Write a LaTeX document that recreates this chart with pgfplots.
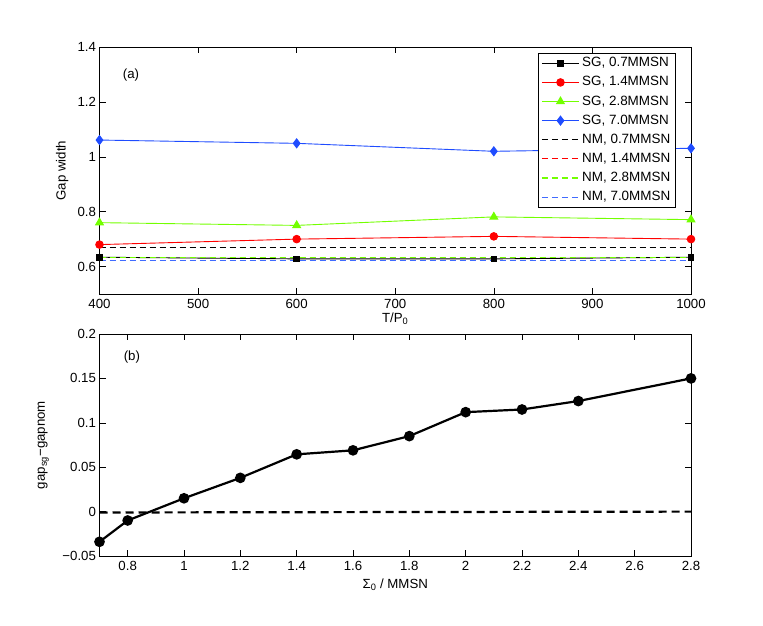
\documentclass[border=0pt]{standalone}
\usepackage{fontspec}
\setmainfont{Liberation Sans}
\usepackage{pgfplots}
\pgfplotsset{compat=1.18}
\definecolor{mred}{rgb}{1,0,0}
\definecolor{mgreen}{rgb}{0.45,1,0}
\definecolor{mblue}{rgb}{0.12,0.3,1}
\definecolor{mblued}{rgb}{0.25,0.42,1}
\begin{document}
\begin{tikzpicture}
\path[use as bounding box] (0,0) rectangle (763bp,-626bp);
\pgfplotsset{every axis/.append style={
  scale only axis, clip=false,
  font=\fontsize{13.3}{15.5}\selectfont,
  tick align=inside, major tick length=6bp,
  tick style={black, line width=0.5bp},
  axis line style={line width=0.6bp},
  xticklabel style={yshift=-1.5bp},
  /pgf/number format/assume math mode=true,
}}
\begin{axis}[
  at={(99.5bp,-294bp)}, anchor=south west,
  width=591.5bp, height=247bp,
  xmin=400, xmax=1000, ymin=0.5, ymax=1.4,
  xtick={400,500,600,700,800,900,1000},
  xticklabels={400,500,600,700,800,900,1000},
  ytick={0.6,0.8,1,1.2,1.4},
  yticklabels={0.6,0.8,1,1.2,1.4},
  ylabel={Gap width},
  ylabel style={at={(axis description cs:-0.063,0.5)}, anchor=center},
  xlabel={T/P\textsubscript{0}},
  xlabel style={at={(axis description cs:0.5,-0.1)}, anchor=center},
  legend style={at={(rel axis cs:0.9746,0.977)}, anchor=north east,
    draw=black, line width=0.5bp, font=\fontsize{13.5}{15.5}\selectfont,
    inner xsep=3bp, inner ysep=1.5bp, row sep=1.3bp,
    nodes={inner sep=2.4bp, anchor=west, text height=10bp, text depth=3bp}},
  legend cell align=left,
  legend image code/.code={\draw[mark repeat=2,mark phase=2,#1] plot coordinates {(0bp,0bp) (18.5bp,0bp) (37bp,0bp)};},
]
\addplot[black, line width=0.9bp, mark=square*, mark size=2.8bp, mark options={solid}] coordinates {(400,0.634) (600,0.628) (800,0.628) (1000,0.634)};
\addlegendentry{SG, 0.7MMSN}
\addplot[mred, line width=0.9bp, mark=*, mark size=3.8bp, mark options={solid}] coordinates {(400,0.68) (600,0.70) (800,0.71) (1000,0.70)};
\addlegendentry{SG, 1.4MMSN}
\addplot[mgreen, line width=0.9bp, mark=triangle*, mark size=4.5bp, mark options={solid}] coordinates {(400,0.76) (600,0.75) (800,0.781) (1000,0.771)};
\addlegendentry{SG, 2.8MMSN}
\addplot[mblue, line width=0.9bp, mark=diamond*, mark size=4.5bp, mark options={solid}] coordinates {(400,1.061) (600,1.049) (800,1.020) (1000,1.031)};
\addlegendentry{SG, 7.0MMSN}
\addplot[black, line width=0.9bp, dash pattern=on 6bp off 4bp] coordinates {(400,0.668) (1000,0.668)};
\addlegendentry{NM, 0.7MMSN}
\addplot[mred, line width=0.9bp, dash pattern=on 6bp off 4bp] coordinates {(400,0.633) (1000,0.633)};
\addlegendentry{NM, 1.4MMSN}
\addplot[mgreen, line width=1.5bp, dash pattern=on 6bp off 4bp] coordinates {(400,0.633) (1000,0.633)};
\addlegendentry{NM, 2.8MMSN}
\addplot[mblued, line width=0.9bp, dash pattern=on 6bp off 4bp] coordinates {(400,0.622) (1000,0.622)};
\addlegendentry{NM, 7.0MMSN}
\node at (axis cs:432,1.298) {(a)};
\end{axis}
\begin{axis}[
  at={(99.5bp,-556bp)}, anchor=south west,
  width=591.5bp, height=222bp,
  xmin=0.7, xmax=2.8, ymin=-0.05, ymax=0.2,
  xtick={0.8,1,1.2,1.4,1.6,1.8,2,2.2,2.4,2.6,2.8},
  xticklabels={0.8,1,1.2,1.4,1.6,1.8,2,2.2,2.4,2.6,2.8},
  ytick={-0.05,0,0.05,0.1,0.15,0.2},
  yticklabels={−0.05,0,0.05,0.1,0.15,0.2},
  ylabel={gap\textsubscript{sg}−gapnom},
  ylabel style={at={(axis description cs:-0.095,0.5)}, anchor=center},
  xlabel={Σ\textsubscript{0} / MMSN},
  xlabel style={at={(axis description cs:0.5,-0.128)}, anchor=center},
]
\addplot[black, line width=2.2bp, mark=*, mark size=4.2bp, mark options={solid}] coordinates {
(0.7,-0.034) (0.8,-0.010) (1.0,0.015) (1.2,0.038) (1.4,0.0645) (1.6,0.069) (1.8,0.085) (2.0,0.112) (2.2,0.115) (2.4,0.1245) (2.8,0.150)};
\addplot[black, line width=2.2bp, dash pattern=on 8bp off 5bp] coordinates {(0.7,-0.001) (2.8,0.0)};
\node at (axis cs:0.815,0.174) {(b)};
\end{axis}
\end{tikzpicture}
\end{document}
